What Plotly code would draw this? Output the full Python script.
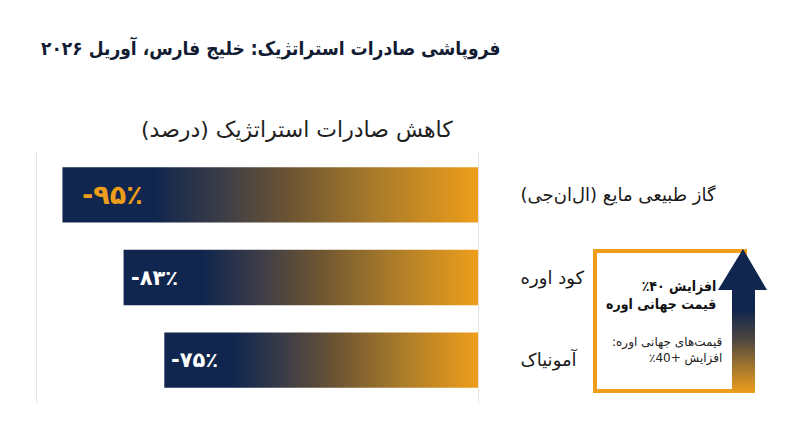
import plotly.graph_objects as go

# ---- data ----
categories = ["گاز طبیعی مایع (ال‌ان‌جی)", "کود اوره", "آمونیاک"]
declines = [-95, -83, -75]
value_labels = ["-۹۵٪", "-۸۳٪", "-۷۵٪"]
title_text = "فروپاشی صادرات استراتژیک: خلیج فارس، آوریل ۲۰۲۶"
subtitle_text = "کاهش صادرات استراتژیک (درصد)"
box_title = ["افزایش ۴۰٪\u200f", "قیمت جهانی اوره"]
box_note = ["قیمت‌های جهانی اوره:\u200f", "افزایش +40٪\u200f"]

NAVY = "#10264E"
ORANGE = "#EE9E1B"
FONT = "DejaVu Sans, sans-serif"
FONT_C = "DejaVu Sans Condensed, DejaVu Sans, sans-serif"
X_MIN, X_MAX = -100, -13.4
W, H = 800, 447
OFF = 8  # page body margin


def px(x):
    return (x - OFF) / W


def py(y):
    return 1 - (y - OFF) / H


bar_scale = [[0, NAVY], [0.22, NAVY], [0.38, "#3b3c48"], [0.55, "#6d5532"],
             [0.75, "#a87a2a"], [1, ORANGE]]

fig = go.Figure()
half = 0.335
for i, v in enumerate(declines):
    fig.add_trace(go.Scatter(
        x=[v, 0, 0, v, v],
        y=[i - half, i - half, i + half, i + half, i - half],
        mode="lines", fill="toself", line=dict(width=0),
        fillgradient=dict(type="horizontal", colorscale=bar_scale, start=v, stop=X_MAX),
        hoverinfo="skip", showlegend=False, xaxis="x", yaxis="y"))

# arrow (decoration) on a pixel overlay axis
arrow_scale = [[0, NAVY], [0.42, NAVY], [0.62, "#4a4540"], [0.8, "#9a7230"], [1, ORANGE]]
ax = [743, 767, 755, 755, 732, 732, 718, 743]
ay = [249, 290, 290, 393, 393, 290, 290, 249]
fig.add_trace(go.Scatter(
    x=ax, y=ay, mode="lines", fill="toself", line=dict(width=0),
    fillgradient=dict(type="vertical", colorscale=arrow_scale, start=249, stop=393),
    hoverinfo="skip", showlegend=False, xaxis="x2", yaxis="y2"))

# value labels inside bars
for i, (v, lab) in enumerate(zip(declines, value_labels)):
    first = i == 0
    fig.add_annotation(x=v, y=i, xref="x", yref="y", text=lab, showarrow=False,
                       xanchor="left", xshift=18 if first else 5,
                       font=dict(family=FONT, size=27 if first else 21,
                                 color=ORANGE if first else "white", weight="bold"))

# titles
fig.add_annotation(x=px(270), y=py(48), xref="paper", yref="paper", text=title_text,
                   showarrow=False, xanchor="center", yanchor="middle",
                   font=dict(family=FONT_C, size=19, color="#121C33", weight="bold"))
fig.add_annotation(x=px(297), y=py(130), xref="paper", yref="paper", text=subtitle_text,
                   showarrow=False, xanchor="center", yanchor="middle",
                   font=dict(family=FONT, size=22, color="#1f1f1f"))

# box
fig.add_shape(type="rect", xref="paper", yref="paper",
              x0=px(595), x1=px(745), y0=py(391), y1=py(251),
              line=dict(color=ORANGE, width=4), fillcolor="white", layer="below")
fig.add_annotation(x=px(718), y=py(295), xref="paper", yref="paper",
                   text="<br>".join(box_title), showarrow=False, xanchor="right", yanchor="middle",
                   align="right",
                   font=dict(family=FONT_C, size=14, color="#111111", weight="bold"))
fig.add_annotation(x=px(724), y=py(350), xref="paper", yref="paper",
                   text="<br>".join(box_note), showarrow=False, xanchor="right", yanchor="middle",
                   align="right",
                   font=dict(family=FONT, size=12, color="#222222"))

fig.update_layout(
    width=W, height=H, margin=dict(l=0, r=0, t=0, b=0),
    paper_bgcolor="white", plot_bgcolor="rgba(0,0,0,0)",
    xaxis=dict(domain=[px(37), px(478)], range=[X_MIN, X_MAX], showgrid=False,
               zeroline=False, showticklabels=False, showline=False, fixedrange=True),
    yaxis=dict(domain=[py(403), py(152)], range=[2.52, -0.52], showgrid=False,
               zeroline=False, side="right", tickvals=[0, 1, 2], ticktext=categories,
               ticks="", ticklabelstandoff=38, showline=True, mirror=True,
               linecolor="#e3e3e3", linewidth=1,
               tickfont=dict(family=FONT, size=18, color="#1a1a1a"), fixedrange=True),
    xaxis2=dict(domain=[0, 1], range=[OFF, W + OFF], visible=False, fixedrange=True, anchor="y2"),
    yaxis2=dict(domain=[0, 1], range=[H + OFF, OFF], visible=False, fixedrange=True, anchor="x2"),
)

fig.write_html("out.html")
